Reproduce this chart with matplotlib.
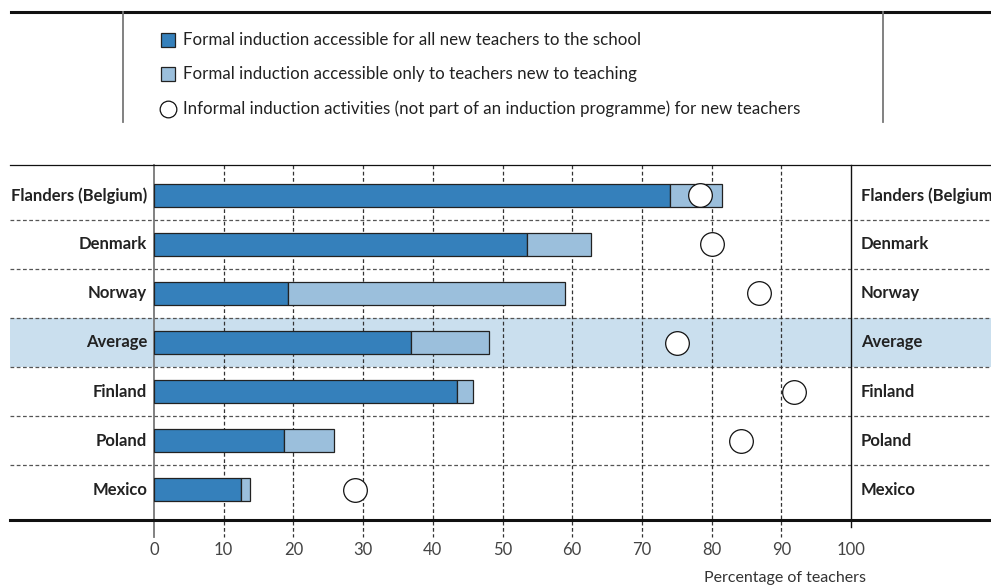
import matplotlib
matplotlib.use("Agg")
import matplotlib.pyplot as plt
from matplotlib.patches import Rectangle
from matplotlib.lines import Line2D
import matplotlib.transforms as mtransforms
import numpy as np

plt.rcParams['font.family'] = ['Lato', 'DejaVu Sans']

# data
countries = ["Flanders (Belgium)", "Denmark", "Norway", "Average",
             "Finland", "Poland", "Mexico"]
formal_all = [74.0, 53.5, 19.2, 36.9, 43.5, 18.7, 12.5]
formal_new_only = [7.5, 9.2, 39.8, 11.2, 2.3, 7.1, 1.3]
informal = [78.3, 80.1, 86.8, 75.0, 91.8, 84.2, 28.8]
xticks = [0, 10, 20, 30, 40, 50, 60, 70, 80, 90, 100]

legend_labels = [
    "Formal induction accessible for all new teachers to the school",
    "Formal induction accessible only to teachers new to teaching",
    "Informal induction activities (not part of an induction programme) for new teachers",
]

dark = "#3580bb"
light = "#9bbfdc"
band = "#cadfee"
edge = "#222222"

W, H = 991, 588
fig = plt.figure(figsize=(W / 100, H / 100), dpi=100)

# main axes: x=0 at px 154, x=100 at px 851, top 165, bottom 520
ax = fig.add_axes([154 / W, 1 - 520 / H, 697 / W, 355 / H])
ax.set_xlim(0, 100)
ax.set_ylim(6.62, -0.62)
for s in ax.spines.values():
    s.set_visible(False)
ax.set_yticks([])
ax.set_xticks(xticks)
ax.tick_params(axis='x', length=0, pad=16, labelsize=12, labelcolor="#444444")

y = np.arange(len(countries))
trans = mtransforms.blended_transform_factory(ax.transAxes, ax.transData)
x_left = (10 - 154) / 697
x_right = (991 - 154) / 697

# highlighted Average row
avg = countries.index("Average")
ax.add_patch(Rectangle((x_left, avg - 0.5), x_right - x_left, 1.0,
                       transform=trans, facecolor=band, edgecolor='none',
                       clip_on=False, zorder=0))

# row separators
for r in range(len(countries) - 1):
    ax.plot([x_left, x_right], [r + 0.5, r + 0.5], transform=trans,
            color="#555555", lw=0.9, ls=(0, (3, 2)), clip_on=False, zorder=1)

# vertical grid lines
ybot_ext = 6.62 + 17 / 49
for t in xticks[1:-1]:
    ax.plot([t, t], [-0.62, ybot_ext], color="#333333", lw=0.9,
            ls=(0, (3, 2)), clip_on=False, zorder=1)
ax.plot([0, 0], [-0.62, ybot_ext], color="#777777", lw=1.3, clip_on=False, zorder=3)
ax.plot([100, 100], [-0.62, 6.62 + 7 / 49], color="#111111", lw=1.0,
        clip_on=False, zorder=3)

# top and bottom frame lines
ax.plot([x_left, x_right], [-0.62, -0.62], transform=trans, color="#111111",
        lw=0.9, clip_on=False, zorder=3)
ax.plot([x_left, x_right], [6.62, 6.62], transform=trans, color="#111111",
        lw=2.2, clip_on=False, zorder=3)

# bars
ax.barh(y, formal_all, height=0.46, color=dark, edgecolor=edge, lw=0.9, zorder=4)
ax.barh(y, formal_new_only, left=formal_all, height=0.46, color=light,
        edgecolor=edge, lw=0.9, zorder=4)
ax.scatter(informal, y, s=290, facecolor="white", edgecolor="#111111",
           lw=0.9, zorder=5)

# row labels on both sides
for i, c in enumerate(countries):
    ax.text(-0.01, i, c, transform=trans, ha='right', va='center',
            fontsize=12, fontweight='bold', color="#222222")
    ax.text(1.0 + 10 / 697, i, c, transform=trans, ha='left', va='center',
            fontsize=12, fontweight='bold', color="#222222", clip_on=False)

fig.text(785 / W, 1 - 578 / H, "Percentage of teachers", ha='center',
         va='center', fontsize=11.5, color="#333333")

# legend box
fig.add_artist(Line2D([11 / W, 1.0], [1 - 12 / H, 1 - 12 / H], color="#111111", lw=2.2))
fig.add_artist(Line2D([123 / W, 123 / W], [1 - 12 / H, 1 - 122 / H], color="#777777", lw=1.3))
fig.add_artist(Line2D([883 / W, 883 / W], [1 - 12 / H, 1 - 122 / H], color="#777777", lw=1.3))

leg_y = [40, 74, 109]
for k, (lab, yy) in enumerate(zip(legend_labels, leg_y)):
    yf = 1 - yy / H
    if k < 2:
        fig.add_artist(Rectangle((161 / W, yf - 7 / H), 14 / W, 14 / H,
                                 facecolor=[dark, light][k], edgecolor=edge,
                                 lw=0.9, transform=fig.transFigure))
    else:
        fig.add_artist(Line2D([168 / W], [yf], marker='o', markersize=12,
                              markerfacecolor='white', markeredgecolor="#111111",
                              markeredgewidth=0.9, ls='none'))
    fig.text(183 / W, yf, lab, ha='left', va='center', fontsize=12.2,
             color="#222222")

fig.savefig("out.png", dpi=100)
